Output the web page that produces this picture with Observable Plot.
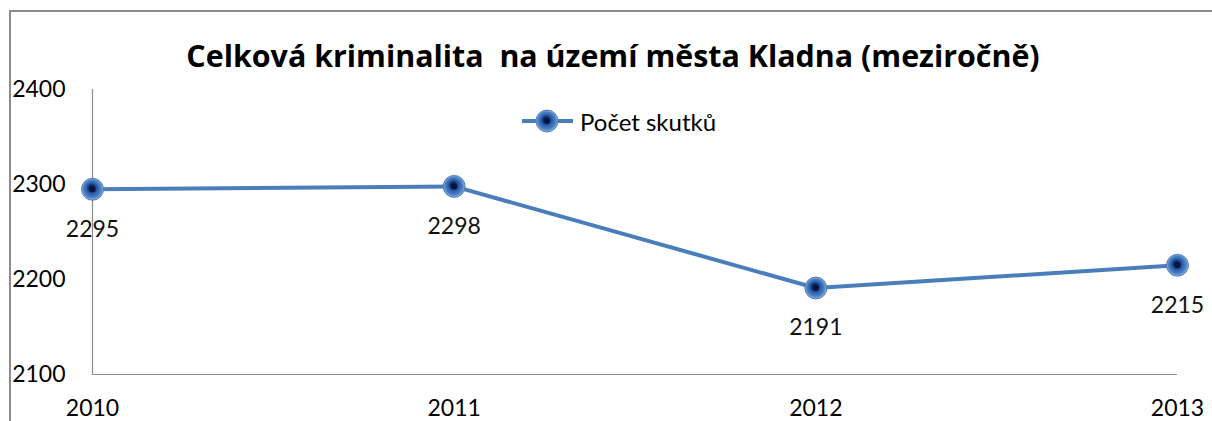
<!DOCTYPE html>
<html>
<head>
<meta charset="utf-8">
<script src="https://cdn.jsdelivr.net/npm/d3@7"></script>
<script src="https://cdn.jsdelivr.net/npm/@observablehq/plot@0.6"></script>
<style>
  html, body { margin: 0; padding: 0; background: #fff; overflow: hidden; }
  #wrap { position: relative; width: 1212px; height: 421px; overflow: hidden; font-family: Lato, "Open Sans", sans-serif; color: #000; }
  #frame { position: absolute; left: 9px; top: 10px; width: 1230px; height: 440px; border: 2px solid #8c8c8c; box-sizing: border-box; }
  #chart { position: absolute; left: 0; top: 0; }
  #title { position: absolute; left: 0; width: 1226px; top: 35px; text-align: center; font-family: "Open Sans", Lato, sans-serif; font-weight: bold; font-size: 30.4px; white-space: pre; line-height: 42px; }
  #legend { position: absolute; left: 520px; top: 106px; height: 30px; display: flex; align-items: center; font-size: 24px; }
  #legend svg { margin-right: 6px; }
</style>
</head>
<body>
<div id="wrap">
  <div id="frame"></div>
  <div id="chart"></div>
  <div id="title"></div>
  <div id="legend"></div>
</div>
<script>
// Yearly totals of recorded offences in Kladno
const years = [2010, 2011, 2012, 2013];
const offences = [2295, 2298, 2191, 2215];
const yTicks = [2100, 2200, 2300, 2400];
const titleText = "Celková kriminalita  na území města Kladna (meziročně)";
const seriesName = "Počet skutků";

const data = years.map((year, i) => ({year, value: offences[i]}));

const lineColor = "#4a7ebb";
const markerFill = "url(#marker-grad)";

const chart = Plot.plot({
  width: 1212,
  height: 421,
  marginLeft: 92,
  marginRight: 35,
  marginTop: 89,
  marginBottom: 47,
  style: {fontFamily: "Lato, 'Open Sans', sans-serif", fontSize: "23px", color: "#000", background: "transparent"},
  x: {domain: [years[0], years[years.length - 1]], ticks: years, tickFormat: d => String(d), tickSize: 0, tickPadding: 25, label: null},
  y: {domain: [yTicks[0], yTicks[yTicks.length - 1]], ticks: yTicks, tickFormat: d => String(d), tickSize: 0, tickPadding: 27, label: null},
  marks: [
    Plot.ruleX([years[0]], {stroke: "#8c8c8c", strokeWidth: 1.2}),
    Plot.ruleY([yTicks[0]], {stroke: "#8c8c8c", strokeWidth: 1.2}),
    Plot.line(data, {x: "year", y: "value", stroke: lineColor, strokeWidth: 4}),
    Plot.dot(data, {x: "year", y: "value", r: 11, fill: markerFill, stroke: "#3a6aa8", strokeWidth: 0.8}),
    Plot.dot(data, {x: "year", y: "value", r: 3, fill: "#061640"}),
    Plot.text(data, {x: "year", y: "value", text: d => String(d.value), dy: 40, fill: "#111", fontSize: 23})
  ]
});

// Radial gradient for the glossy markers
function addGradient(svg) {
  const ns = "http://www.w3.org/2000/svg";
  const defs = document.createElementNS(ns, "defs");
  defs.innerHTML = `
    <radialGradient id="marker-grad" cx="50%" cy="50%" r="50%" fx="45%" fy="42%">
      <stop offset="0%" stop-color="#0a1d4c"/>
      <stop offset="28%" stop-color="#102d6c"/>
      <stop offset="50%" stop-color="#2d5ea8"/>
      <stop offset="80%" stop-color="#4c82c8"/>
      <stop offset="100%" stop-color="#9cbbe4"/>
    </radialGradient>`;
  svg.insertBefore(defs, svg.firstChild);
}
addGradient(chart);
document.getElementById("chart").appendChild(chart);

document.getElementById("title").textContent = titleText;

// Legend: line with marker, then series name
const legend = document.getElementById("legend");
const legendSvg = d3.create("svg").attr("width", 54).attr("height", 30);
legendSvg.append("line").attr("x1", 2).attr("x2", 53).attr("y1", 15).attr("y2", 15)
  .attr("stroke", lineColor).attr("stroke-width", 4);
legendSvg.append("circle").attr("cx", 27).attr("cy", 15).attr("r", 11)
  .attr("fill", "url(#marker-grad)").attr("stroke", "#3a6aa8").attr("stroke-width", 0.8);
legendSvg.append("circle").attr("cx", 27).attr("cy", 15).attr("r", 3).attr("fill", "#061640");
legend.appendChild(legendSvg.node());
const legendLabel = document.createElement("span");
legendLabel.textContent = seriesName;
legend.appendChild(legendLabel);
</script>
</body>
</html>
